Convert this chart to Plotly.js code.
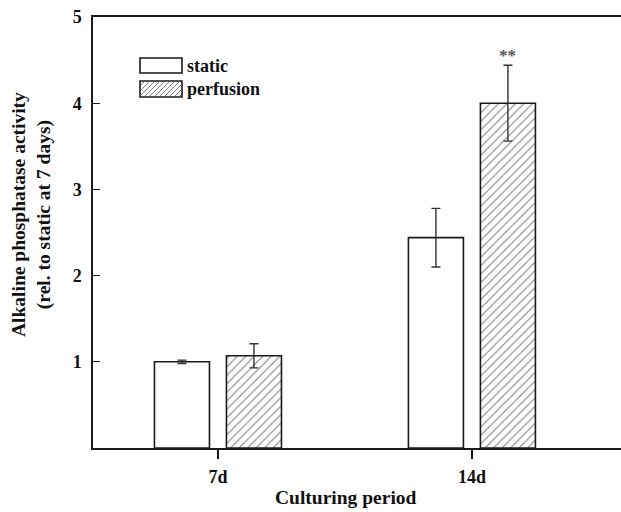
<!DOCTYPE html>
<html>
<head>
<meta charset="utf-8">
<script src="https://cdn.plot.ly/plotly-3.0.1.min.js"></script>
<style>html,body{margin:0;padding:0;background:#fff}#chart{width:621px;height:512px}</style>
</head>
<body>
<div id="chart"></div>
<script>
const categories = ["7d", "14d"];
const staticValues = [1.00, 2.44];
const staticErrors = [0.02, 0.34];
const perfusionValues = [1.07, 4.00];
const perfusionErrors = [0.14, 0.44];
const seriesNames = ["static", "perfusion"];
const yTickValues = [1, 2, 3, 4, 5];
const significance = "**";

const FONT = "Liberation Serif, Times New Roman, serif";
const BARGAP = 0.433, BARGROUPGAP = 0.236;

const traces = [
  {
    type: "bar", name: seriesNames[0], x: categories, y: staticValues,
    marker: {color: "#ffffff", line: {color: "#1a1a1a", width: 1.6}},
    error_y: {type: "data", array: staticErrors, visible: true, color: "#333", thickness: 1.4, width: 4.5},
    showlegend: false, hoverinfo: "x+y"
  },
  {
    type: "bar", name: seriesNames[1], x: categories, y: perfusionValues,
    marker: {color: "#ffffff", line: {color: "#1a1a1a", width: 1.6},
      pattern: {shape: "/", fgcolor: "#808080", bgcolor: "#ffffff", size: 6, solidity: 0.18}},
    error_y: {type: "data", array: perfusionErrors, visible: true, color: "#333", thickness: 1.4, width: 4.5},
    showlegend: false, hoverinfo: "x+y"
  }
];

const slot = (1 - BARGAP) / 2;
const secondCenter = 1 + slot / 2;

const L = {x0: 140, x1: 182, rows: [[58, 73], [81, 97]]};
function px2paperX(p) { return (p - 93) / (621 - 93); }
function px2paperY(p) { return (448 - p) / (448 - 17); }
const shapes = [];
L.rows.forEach((r, i) => {
  shapes.push({type: "rect", xref: "paper", yref: "paper",
    x0: px2paperX(L.x0), x1: px2paperX(L.x1), y0: px2paperY(r[1]), y1: px2paperY(r[0]),
    line: {color: "#1a1a1a", width: 1.6}, fillcolor: "#fff", layer: "above"});
});
(function () {
  const [top, bot] = L.rows[1];
  let path = "";
  for (let s = L.x0 - (bot - top); s < L.x1; s += 5) {
    let xa = s, ya = bot, xb = s + (bot - top), yb = top;
    if (xa < L.x0) { ya = bot - (L.x0 - xa); xa = L.x0; }
    if (xb > L.x1) { yb = top + (xb - L.x1); xb = L.x1; }
    if (xb <= xa) continue;
    path += `M${px2paperX(xa + 0.8)},${px2paperY(ya - 0.8)}L${px2paperX(xb - 0.8)},${px2paperY(yb + 0.8)}`;
  }
  shapes.push({type: "path", xref: "paper", yref: "paper", path: path,
    line: {color: "#808080", width: 1}, layer: "above"});
})();

const annotations = [
  {xref: "paper", yref: "paper", x: px2paperX(185), y: px2paperY(66), text: "<b>" + seriesNames[0] + "</b>",
    showarrow: false, xanchor: "left", yanchor: "middle", font: {family: FONT, size: 18, color: "#111"}},
  {xref: "paper", yref: "paper", x: px2paperX(185), y: px2paperY(89), text: "<b>" + seriesNames[1] + "</b>",
    showarrow: false, xanchor: "left", yanchor: "middle", font: {family: FONT, size: 18, color: "#111"}},
  {xref: "x", yref: "y", x: secondCenter, y: perfusionValues[1] + perfusionErrors[1], text: "<b>" + significance + "</b>",
    showarrow: false, yanchor: "bottom", yshift: -2, font: {family: FONT, size: 17, color: "#555"}},
  {xref: "paper", yref: "paper", x: px2paperX(346), y: px2paperY(497), text: "<b>Culturing period</b>",
    showarrow: false, xanchor: "center", yanchor: "middle", font: {family: FONT, size: 19.5, color: "#111"}},
  {xref: "paper", yref: "paper", x: px2paperX(32), y: px2paperY(215),
    text: "<b>Alkaline phosphatase activity<br>(rel. to static at 7 days)</b>",
    showarrow: false, textangle: -90, xanchor: "center", yanchor: "middle", align: "center",
    font: {family: FONT, size: 19.5, color: "#111"}}
];

const layout = {
  width: 621, height: 512,
  margin: {l: 93, r: 0, t: 17, b: 64},
  paper_bgcolor: "#fff", plot_bgcolor: "#fff",
  barmode: "group", bargap: BARGAP, bargroupgap: BARGROUPGAP,
  showlegend: false,
  font: {family: FONT, color: "#111"},
  xaxis: {
    type: "category", range: [-0.492, 1.587], showgrid: false, zeroline: false,
    showline: true, linecolor: "#1a1a1a", linewidth: 1.6, mirror: true,
    ticks: "outside", ticklen: 9, tickwidth: 1.4, tickcolor: "#1a1a1a",
    tickfont: {family: FONT, size: 18, color: "#111"}, ticklabelstandoff: 3,
    tickvals: categories, ticktext: categories.map(c => "<b>" + c + "</b>")
  },
  yaxis: {
    range: [0, 5], showgrid: false, zeroline: false,
    showline: true, linecolor: "#1a1a1a", linewidth: 1.6, mirror: false,
    ticks: "inside", ticklen: 7, tickwidth: 1.4, tickcolor: "#1a1a1a",
    tickvals: yTickValues, ticktext: yTickValues.map(v => "<b>" + v + "</b>"),
    tickfont: {family: FONT, size: 18, color: "#111"}, ticklabelstandoff: 6
  },
  shapes: shapes,
  annotations: annotations
};

Plotly.newPlot("chart", traces, layout, {staticPlot: true, displayModeBar: false});
</script>
</body>
</html>
